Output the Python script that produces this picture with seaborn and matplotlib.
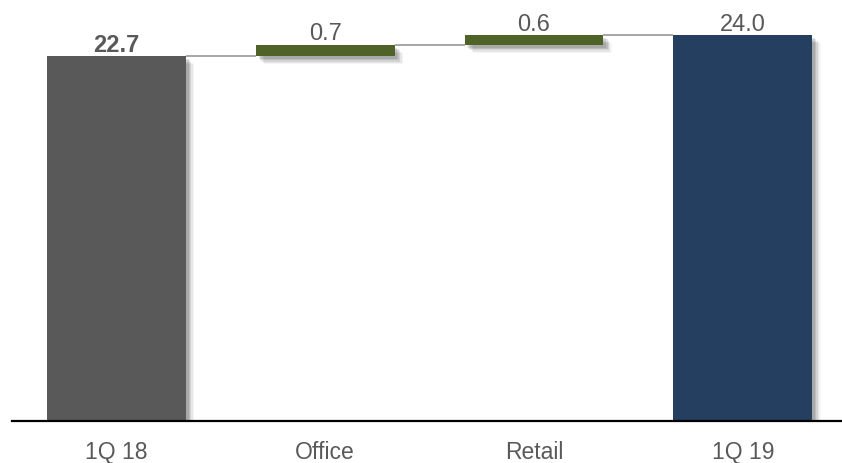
import matplotlib
matplotlib.use("Agg")
import matplotlib.pyplot as plt
import matplotlib.patheffects as pe
import seaborn as sns
import pandas as pd
import numpy as np

# Waterfall: starting total, two increments, ending total
categories = ["1Q 18", "Office", "Retail", "1Q 19"]
values = [22.7, 0.7, 0.6, 24.0]
kinds = ["total", "delta", "delta", "total"]
label_text = ["22.7", "0.7", "0.6", "24.0"]
colors = {"start": "#595959", "delta": "#4F6228", "end": "#243F60"}

# Bar bottoms/heights for the floating segments
bottoms, heights = [], []
running = 0.0
for v, k in zip(values, kinds):
    if k == "total":
        bottoms.append(0.0)
        heights.append(v)
        running = v
    else:
        bottoms.append(running)
        heights.append(v)
        running += v
tops = [b + h for b, h in zip(bottoms, heights)]

df = pd.DataFrame({"category": categories, "height": heights})

sns.set_theme(style="white")
plt.rcParams["font.family"] = ["Liberation Sans", "DejaVu Sans"]

fig = plt.figure(figsize=(8.42, 4.64), dpi=100)
ax = fig.add_axes([12 / 842, 1 - 422 / 464, 1 - 12 / 842, 410 / 464])

sns.barplot(data=df, x="category", y="height", bottom=np.array(bottoms),
            width=0.665, ax=ax, color="#595959", linewidth=0, saturation=1)

bar_colors = [colors["start"], colors["delta"], colors["delta"], colors["end"]]
shadow = [pe.SimplePatchShadow(offset=(d, -d), shadow_rgbFace="black", alpha=a)
          for d, a in [(6, 0.04), (5, 0.06), (4, 0.08), (3, 0.10), (2, 0.10)]]
for patch, c in zip(ax.patches, bar_colors):
    patch.set_facecolor(c)
    patch.set_edgecolor("none")
    patch.set_path_effects(shadow + [pe.Normal()])

# Connector lines between consecutive bars
half = 0.665 / 2
for i in range(len(categories) - 1):
    ax.plot([i + half, i + 1 - half], [tops[i], tops[i]], color="#A6A6A6",
            lw=1.4, solid_capstyle="butt", zorder=1)

# Value labels
for i, (t, txt) in enumerate(zip(tops, label_text)):
    ax.annotate(txt, xy=(i, t), xytext=(0, 3.8), textcoords="offset points",
                ha="center", va="baseline", fontsize=17, color="#595959",
                fontweight="bold" if i == 0 else "normal")

ax.set_xlim(-0.5, 3.475)
ax.set_ylim(0, 25.5)
ax.set_xlabel("")
ax.set_ylabel("")
ax.set_yticks([])
ax.tick_params(axis="x", length=0, pad=14)
for lbl in ax.get_xticklabels():
    lbl.set_fontsize(16.5)
    lbl.set_color("#595959")
sns.despine(ax=ax, left=True, right=True, top=True)
ax.spines["bottom"].set_color("black")
ax.spines["bottom"].set_linewidth(1.6)

fig.savefig("out.png", dpi=100, facecolor="white")
